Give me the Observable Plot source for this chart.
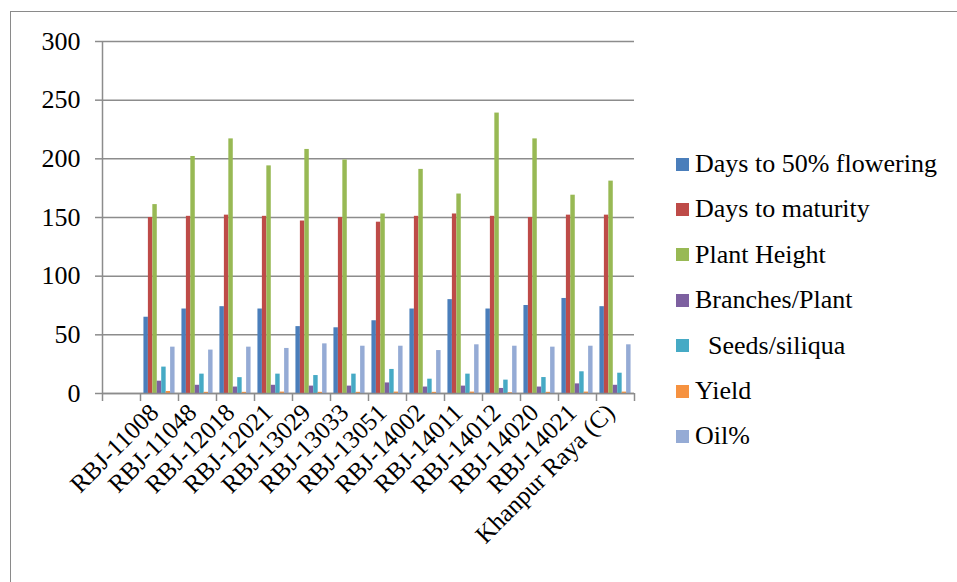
<!DOCTYPE html>
<html><head><meta charset="utf-8">
<script src="https://cdn.jsdelivr.net/npm/d3@7"></script>
<script src="https://cdn.jsdelivr.net/npm/@observablehq/plot@0.6"></script>
<style>
html,body{margin:0;padding:0;background:#fff;overflow:hidden;width:957px;height:582px}
#wrap{position:relative;width:957px;height:582px;overflow:hidden}
#chart{position:absolute;left:0;top:0}
#frame{position:absolute;left:10px;top:11px;width:1000px;height:700px;border:1px solid #8a8a8a;pointer-events:none}
#legend{position:absolute;left:676px;top:0;font-family:"Liberation Serif","Tinos","DejaVu Serif",serif;font-size:26px;color:#000}
.item{position:absolute;left:0;white-space:pre;display:flex;align-items:center;height:30px}
.sw{width:13px;height:13px;margin-right:6px;flex:none}
</style></head><body>
<div id="wrap"><div id="chart"></div><div id="frame"></div><div id="legend"></div></div>
<script>
const genotypes = ["RBJ-11008","RBJ-11048","RBJ-12018","RBJ-12021","RBJ-13029","RBJ-13033","RBJ-13051","RBJ-14002","RBJ-14011","RBJ-14012","RBJ-14020","RBJ-14021","Khanpur Raya (C)"];
const seriesNames = ["Days to 50% flowering","Days to maturity","Plant Height","Branches/Plant","  Seeds/siliqua","Yield","Oil%"];
const flowering = [65, 72, 74, 72, 57, 56, 62, 72, 80, 72, 75, 81, 74];
const maturity  = [150, 151, 152, 151, 147, 150, 146, 151, 153, 151, 150, 152, 152];
const plantHeight = [161, 202, 217, 194, 208, 199, 153, 191, 170, 239, 217, 169, 181];
const branches  = [10.5, 7, 5.5, 7, 6.3, 6.3, 9, 5.5, 6.3, 4.3, 5.5, 8.2, 7];
const seeds     = [22.5, 16.5, 13.5, 16.5, 15.3, 16.5, 20.5, 12.2, 16.5, 11.4, 13.6, 18.5, 17.3];
const yieldVals = [1.7, 1.0, 1.0, 1.2, 1.0, 1.0, 1.2, 1.0, 1.2, 0.6, 1.0, 1.2, 1.2];
const oil       = [39.5, 37, 39.5, 38.4, 42.3, 40.3, 40.3, 36.6, 41.5, 40.3, 39.5, 40.3, 41.5];
const yTicks = [0, 50, 100, 150, 200, 250, 300];
const colors = ["#4A7EBB","#BE4B48","#98B954","#7D60A0","#46AAC5","#F69240","#95ABD5"];

const seriesValues = [flowering, maturity, plantHeight, branches, seeds, yieldVals, oil];
const nSlots = genotypes.length + 1; // first slot is empty
const barW = 0.117;
const pad = (1 - seriesNames.length * barW) / 2;
const rows = genotypes.flatMap((g, i) => seriesNames.map((s, j) => ({
  g, s, v: seriesValues[j][i],
  x1: i + 1 + pad + j * barW,
  x2: i + 1 + pad + (j + 1) * barW
})));

const axisColor = "#8c8c8c";
const serifFont = "'Liberation Serif', 'Tinos', 'DejaVu Serif', serif";
const plot = Plot.plot({
  width: 957, height: 582,
  marginLeft: 102, marginRight: 323, marginTop: 41, marginBottom: 189,
  x: {domain: [0, nSlots], axis: null},
  y: {domain: [0, 300], axis: null},
  color: {domain: seriesNames, range: colors},
  style: {fontFamily: serifFont, fontSize: "26px", background: "transparent", color: "#000"},
  marks: [
    Plot.gridY(yTicks, {stroke: axisColor, strokeOpacity: 1, strokeWidth: 1.5}),
    Plot.axisY(yTicks, {tickSize: 7, tickPadding: 15, stroke: axisColor, strokeWidth: 1.5, fontSize: 26, fontFamily: serifFont, label: null}),
    Plot.axisX(d3.range(nSlots + 1), {tickSize: 8, tickFormat: () => "", stroke: axisColor, strokeWidth: 1.5, label: null}),
    Plot.ruleX([0], {stroke: axisColor, strokeWidth: 1.5}),
    Plot.rectY(rows, {x1: "x1", x2: "x2", y1: 0, y2: "v", fill: "s"}),
    Plot.ruleY([0], {stroke: axisColor, strokeWidth: 1.5}),
    Plot.text(genotypes, {x: (d, i) => i + 1.5, y: () => 0, text: d => d, rotate: -45, textAnchor: "end", lineAnchor: "top", dx: -12, dy: 8, fontSize: 25, fontFamily: serifFont, fill: "#000"})
  ]
});
document.getElementById("chart").appendChild(plot);

const legend = document.getElementById("legend");
seriesNames.forEach((s, k) => {
  const it = document.createElement("div");
  it.className = "item";
  it.style.top = (149 + k * 45.4) + "px";
  const sw = document.createElement("span");
  sw.className = "sw";
  sw.style.background = colors[k];
  const tx = document.createElement("span");
  tx.textContent = s;
  it.appendChild(sw); it.appendChild(tx);
  legend.appendChild(it);
});
</script>
</body></html>
